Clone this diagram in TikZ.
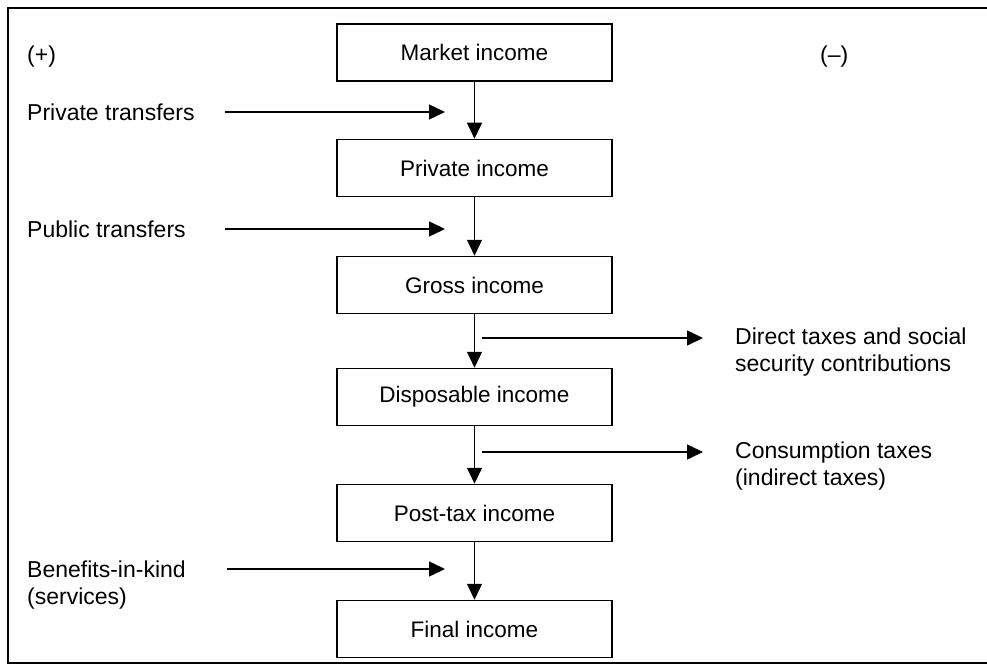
\documentclass[tikz,border=0pt]{standalone}
\usepackage{fontspec}
\setmainfont{Liberation Sans}
\usetikzlibrary{arrows.meta}
\begin{document}
\begin{tikzpicture}[x=1pt,y=-1pt,
  box/.style={draw,line width=1.5pt,minimum width=275pt,minimum height=57pt,inner sep=0pt,font=\fontsize{22.5}{27}\selectfont},
  lbl/.style={inner sep=0pt,font=\fontsize{23}{27.5}\selectfont,align=left},
  arr/.style={line width=1.5pt,-{Triangle[length=16pt,width=15pt]}}]
\useasboundingbox (0,0) rectangle (987,666);
\draw[line width=1.5pt] (987,8) -- (8,8) -- (8,663) -- (987,663);
\node[box] (m) at (474.5,52.5) {Market income};
\node[box] (p) at (474.5,168) {Private income};
\node[box] (g) at (474.5,285) {Gross income};
\node[box] (d) at (474.5,397) {Disposable income};
\node[box] (t) at (474.5,513) {Post-tax income};
\node[box] (f) at (474.5,629) {Final income};
\draw[arr] (m) -- (p);
\draw[arr] (p) -- (g);
\draw[arr] (g) -- (d);
\draw[arr] (d) -- (t);
\draw[arr] (t) -- (f);
\node[lbl,anchor=west] (plus) at (27,57) {(+)};
\node[lbl,anchor=west] (minus) at (820,57) {(–)};
\node[lbl,anchor=west] (pt) at (27,112) {Private transfers};
\node[lbl,anchor=west] (pu) at (27,229) {Public transfers};
\node[lbl,anchor=west] (bk) at (27,585) {Benefits-in-kind\\(services)};
\node[lbl,anchor=west] (dt) at (735,352) {Direct taxes and social\\security contributions};
\node[lbl,anchor=west] (ct) at (735,466) {Consumption taxes\\(indirect taxes)};
\coordinate (a1s) at (225,112); \coordinate (a1e) at (445,112);
\coordinate (a2s) at (225,229); \coordinate (a2e) at (445,229);
\coordinate (a3s) at (227,569); \coordinate (a3e) at (445,569);
\coordinate (a4s) at (482,338); \coordinate (a4e) at (703,338);
\coordinate (a5s) at (482,452); \coordinate (a5e) at (703,452);
\draw[arr] (a1s) -- (a1e);
\draw[arr] (a2s) -- (a2e);
\draw[arr] (a3s) -- (a3e);
\draw[arr] (a4s) -- (a4e);
\draw[arr] (a5s) -- (a5e);
\end{tikzpicture}
\end{document}
